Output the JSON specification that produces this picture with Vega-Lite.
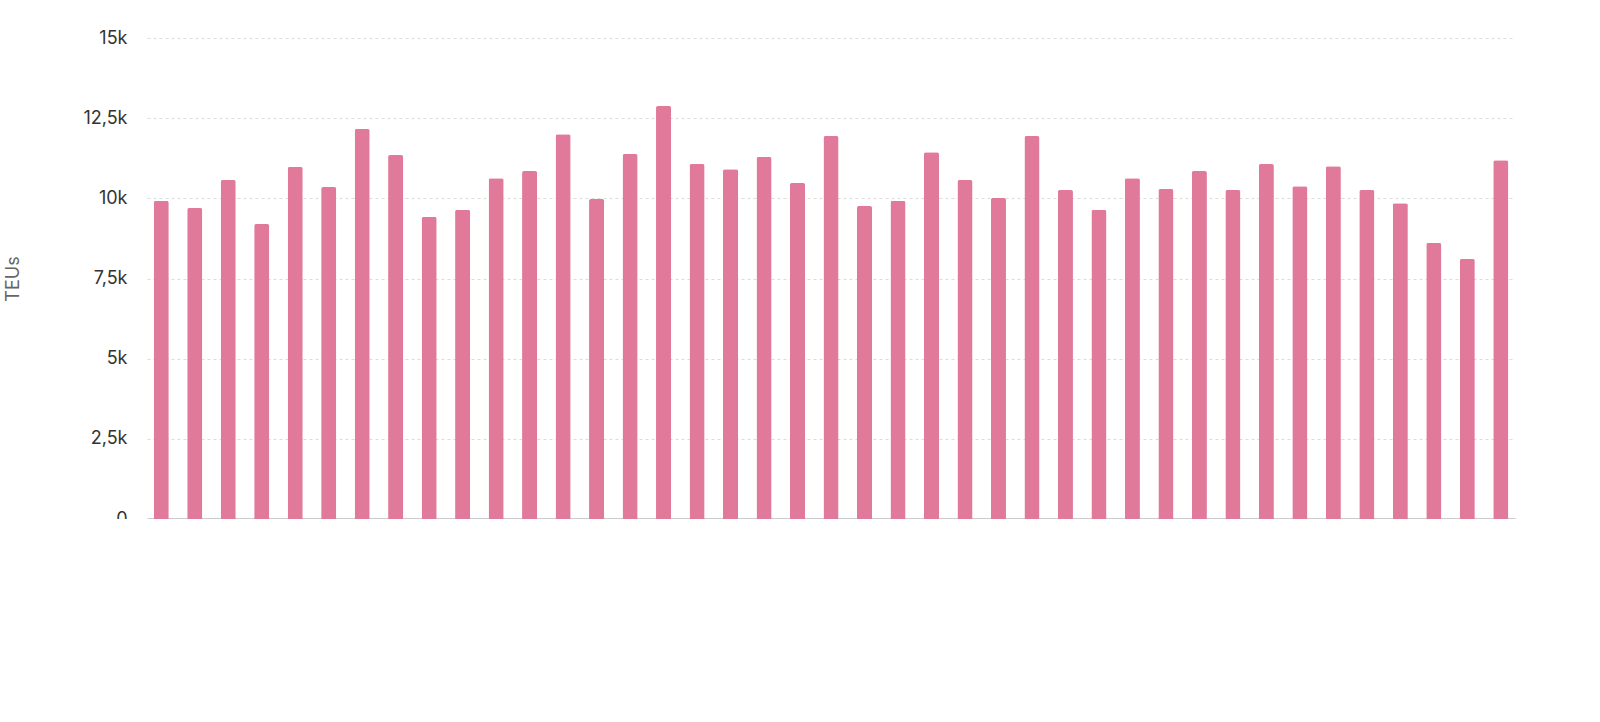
{
"$schema":"https://vega.github.io/schema/vega-lite/v6.json",
"width":1368,"height":481,
"autosize":{"type":"none"},
"padding":{"left":147,"top":38,"right":85,"bottom":0},
"background":"white",
"config":{"font":"Inter","view":{"stroke":null}},
"data":{"values":[
{"m":"202301","v":9920},{"m":"202302","v":9700},{"m":"202303","v":10570},{"m":"202304","v":9200},{"m":"202305","v":10980},{"m":"202306","v":10350},{"m":"202307","v":12160},{"m":"202308","v":11350},{"m":"202309","v":9420},{"m":"202310","v":9640},{"m":"202311","v":10630},{"m":"202312","v":10850},
{"m":"202401","v":12000},{"m":"202402","v":9980},{"m":"202403","v":11380},{"m":"202404","v":12880},{"m":"202405","v":11070},{"m":"202406","v":10910},{"m":"202407","v":11290},{"m":"202408","v":10480},{"m":"202409","v":11940},{"m":"202410","v":9760},{"m":"202411","v":9920},{"m":"202412","v":11440},
{"m":"202501","v":10570},{"m":"202502","v":10010},{"m":"202503","v":11940},{"m":"202504","v":10260},{"m":"202505","v":9640},{"m":"202506","v":10630},{"m":"202507","v":10290},{"m":"202508","v":10850},{"m":"202509","v":10260},{"m":"202510","v":11070},{"m":"202511","v":10380},{"m":"202512","v":11000},
{"m":"202601","v":10260},{"m":"202602","v":9850},{"m":"202603","v":8610},{"m":"202604","v":8110},{"m":"202605","v":11190}
]},
"mark":{"type":"bar","cornerRadiusTopLeft":2,"cornerRadiusTopRight":2},
"encoding":{
"x":{"field":"m","type":"ordinal","scale":{"paddingInner":0.55,"paddingOuter":0.2},
"axis":{"title":null,"labelAngle":-45,"labelExpr":"indexof(['01','03','05','07','09','11'], slice(datum.value,4))>=0 ? datum.value : ''","labelFontSize":18,"labelColor":"#333","ticks":false,"domainColor":"#333","domainWidth":1.5,"labelPadding":6}},
"y":{"field":"v","type":"quantitative","scale":{"domain":[0,15000]},
"axis":{"title":"TEUs","titleFontSize":18,"titleFontWeight":"normal","titleColor":"#666","titlePadding":60,"values":[0,2500,5000,7500,10000,12500,15000],"labelExpr":"replace(format(datum.value,'~s'),'.',',')","labelFontSize":18,"labelColor":"#333","labelPadding":20,"ticks":false,"domain":false,"gridDash":[3,3],"gridColor":"#ddd"}},
"color":{"datum":"Poultry Exports","type":"nominal","scale":{"range":["#E17A9A"]},
"legend":{"title":null,"orient":"none","legendX":520,"legendY":620,"symbolType":"circle","symbolSize":350,"labelFontSize":18,"labelColor":"#333","symbolOpacity":1}}
}
}
